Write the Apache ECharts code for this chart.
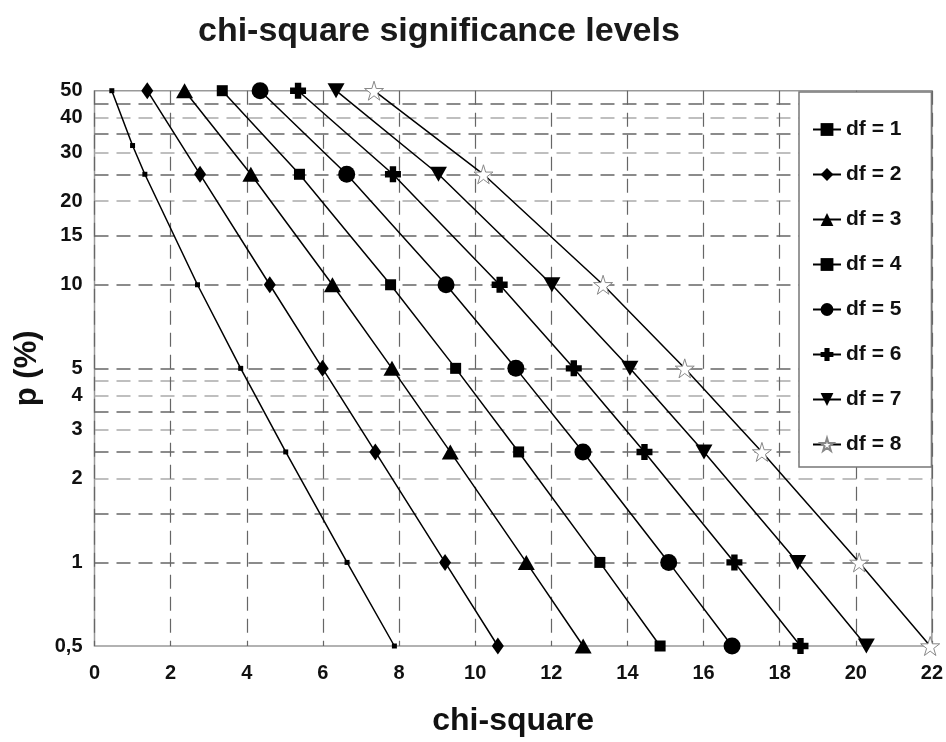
<!DOCTYPE html>
<html>
<head>
<meta charset="utf-8">
<title>chi-square significance levels</title>
<script src="https://cdn.jsdelivr.net/npm/echarts@6/dist/echarts.min.js"></script>
<style>
  html, body { margin: 0; padding: 0; background: #fff; }
  #chart { width: 946px; height: 742px; }
</style>
</head>
<body>
<div id="chart"></div>
<script>
// p levels (%) shared by df = 2..8
const pLevels = [50, 25, 10, 5, 2.5, 1, 0.5];
// df = 1 has one extra point at chi-square = 1
const df1P = [50, 31.73, 25, 10, 5, 2.5, 1, 0.5];
const df1X = [0.455, 1.0, 1.323, 2.706, 3.841, 5.024, 6.635, 7.879];
const df2X = [1.386, 2.773, 4.605, 5.991, 7.378, 9.210, 10.597];
const df3X = [2.366, 4.108, 6.251, 7.815, 9.348, 11.345, 12.838];
const df4X = [3.357, 5.385, 7.779, 9.488, 11.143, 13.277, 14.860];
const df5X = [4.351, 6.626, 9.236, 11.070, 12.833, 15.086, 16.750];
const df6X = [5.348, 7.841, 10.645, 12.592, 14.449, 16.812, 18.548];
const df7X = [6.346, 9.037, 12.017, 14.067, 16.013, 18.475, 20.278];
const df8X = [7.344, 10.219, 13.362, 15.507, 17.535, 20.090, 21.955];

const yLabelValues = [0.5, 1, 2, 3, 4, 5, 10, 15, 20, 30, 40, 50];
const gridLight = [40, 30, 20, 4.5, 4, 3, 2];
const gridDark = [45, 35, 25, 15, 10, 5, 3.5, 2.5, 1.5, 1];

const FONT = '"Liberation Sans", Arial, Helvetica, sans-serif';

const pairs = (xs, ps) => xs.map((x, i) => [x, ps[i]]);

const plusPath = 'path://M3,0 H7 V3 H10 V7 H7 V10 H3 V7 H0 V3 H3 Z';
const downTriPath = 'path://M0,0 L10,0 L5,9 Z';
const starPath = 'path://M50,0 L61,35 L98,35 L68,57 L79,91 L50,70 L21,91 L32,57 L2,35 L39,35 Z';

const seriesDefs = [
    { name: 'df = 1', data: pairs(df1X, df1P), symbol: 'rect', size: 5 },
    { name: 'df = 2', data: pairs(df2X, pLevels), symbol: 'diamond', size: [12, 17] },
    { name: 'df = 3', data: pairs(df3X, pLevels), symbol: 'triangle', size: [17, 15] },
    { name: 'df = 4', data: pairs(df4X, pLevels), symbol: 'rect', size: 11 },
    { name: 'df = 5', data: pairs(df5X, pLevels), symbol: 'circle', size: 17 },
    { name: 'df = 6', data: pairs(df6X, pLevels), symbol: plusPath, size: 16 },
    { name: 'df = 7', data: pairs(df7X, pLevels), symbol: downTriPath, size: [17, 15] },
    { name: 'df = 8', data: pairs(df8X, pLevels), symbol: starPath, size: 19, hollow: true }
];

const logAxisBase = {
    type: 'log',
    logBase: 10,
    min: 0.5,
    max: 50,
    position: 'left',
    axisLine: { show: false },
    axisTick: { show: false }
};

const chart = echarts.init(document.getElementById('chart'));

chart.setOption({
    animation: false,
    backgroundColor: '#fff',
    title: {
        text: 'chi-square significance levels',
        left: 193,
        top: 10,
        textStyle: { fontFamily: FONT, fontSize: 34, fontWeight: 'bold', color: '#1a1a1a' }
    },
    grid: {
        left: 94.5,
        right: 11,
        top: 90.7,
        bottom: 96,
        show: true,
        borderColor: '#999',
        borderWidth: 1.5,
        backgroundColor: 'transparent'
    },
    legend: {
        orient: 'vertical',
        left: 799,
        top: 92,
        padding: [27, 30, 12, 13],
        itemWidth: 28,
        itemHeight: 16,
        itemGap: 24,
        backgroundColor: '#fff',
        borderColor: '#777',
        borderWidth: 1.5,
        textStyle: { fontFamily: FONT, fontSize: 21, fontWeight: 'bold', color: '#111' }
    },
    xAxis: {
        type: 'value',
        min: 0,
        max: 22,
        interval: 2,
        name: 'chi-square',
        nameLocation: 'middle',
        nameGap: 59,
        nameTextStyle: { fontFamily: FONT, fontSize: 32, fontWeight: 'bold', color: '#111' },
        axisLine: { show: false },
        axisTick: { show: false },
        axisLabel: { margin: 17, fontFamily: FONT, fontSize: 20, fontWeight: 'bold', color: '#111' },
        splitLine: { show: true, lineStyle: { color: '#666', width: 1.2, type: [14, 8] } }
    },
    yAxis: [
        Object.assign({}, logAxisBase, {
            name: 'p (%)',
            nameLocation: 'middle',
            nameGap: 52,
            nameTextStyle: { fontFamily: FONT, fontSize: 31, fontWeight: 'bold', color: '#111' },
            axisTick: { show: false, customValues: gridLight },
            axisLabel: {
                customValues: yLabelValues,
                margin: 12,
                fontFamily: FONT,
                fontSize: 20,
                fontWeight: 'bold',
                color: '#111',
                formatter: v => String(v).replace('.', ',')
            },
            splitLine: { show: true, lineStyle: { color: '#aaa', width: 1.5, type: [14, 8] } }
        }),
        Object.assign({}, logAxisBase, {
            axisTick: { show: false, customValues: gridDark },
            axisLabel: { show: false },
            splitLine: { show: true, lineStyle: { color: '#666', width: 1.5, type: [14, 8] } }
        })
    ],
    series: seriesDefs.map(d => ({
        name: d.name,
        type: 'line',
        yAxisIndex: 0,
        data: d.data,
        symbol: d.symbol,
        symbolSize: d.size,
        showAllSymbol: true,
        clip: false,
        lineStyle: { color: '#000', width: 1.5 },
        itemStyle: d.hollow
            ? { color: '#fff', borderColor: '#888', borderWidth: 1 }
            : { color: '#000' },
        emphasis: { disabled: true }
    }))
});
</script>
</body>
</html>
